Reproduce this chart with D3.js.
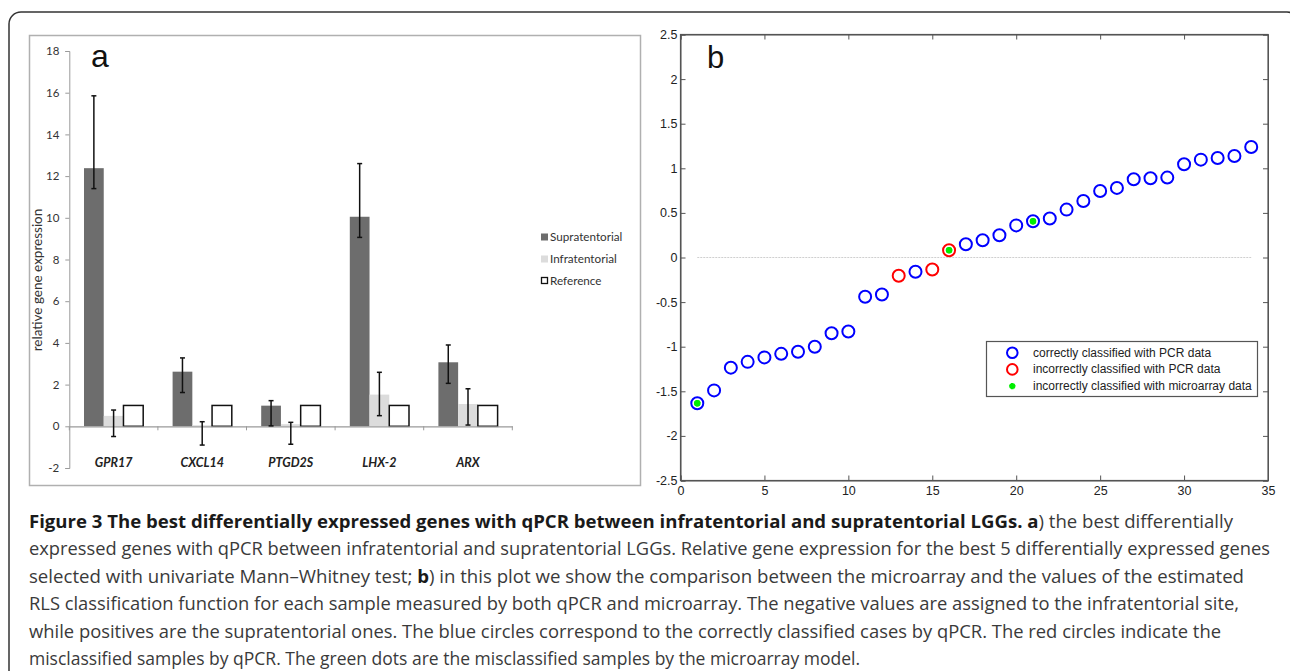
<!DOCTYPE html>
<html><head><meta charset="utf-8">
<script src="https://cdn.jsdelivr.net/npm/d3@7"></script>
<style>body{margin:0;background:#fff;} svg{display:block;}</style>
</head><body>
<script>
// ---------- Panel a data ----------
const genes = ["GPR17","CXCL14","PTGD2S","LHX-2","ARX"];
const seriesNames = ["Supratentorial","Infratentorial","Reference"];
const supra     = [12.38, 2.62, 0.99, 10.05, 3.07];
const supraLow  = [11.40, 1.62, 0.02, 9.06, 2.06];
const supraHigh = [15.85, 3.28, 1.23, 12.60, 3.90];
const infra     = [0.50, 0.05, 0.10, 1.52, 1.07];
const infraLow  = [-0.49, -0.90, -0.86, 0.51, 0.06];
const infraHigh = [0.78, 0.22, 0.19, 2.59, 1.80];
const reference = [1, 1, 1, 1, 1];
const yTicksA = [-2,0,2,4,6,8,10,12,14,16,18];

// ---------- Panel b data ----------
const sampleIdx = d3.range(1, 35);
const rlsScore = [-1.634,-1.49,-1.235,-1.17,-1.12,-1.08,-1.056,-1.0,-0.85,-0.83,
  -0.44,-0.414,-0.205,-0.16,-0.134,0.082,0.149,0.194,0.25,0.36,
  0.407,0.437,0.537,0.634,0.746,0.78,0.877,0.888,0.896,1.045,
  1.097,1.116,1.138,1.239];
const pcrMisclassified = [13, 15, 16];
const microarrayMisclassified = [1, 16, 21];
const xTicksB = [0,5,10,15,20,25,30,35];
const yTicksB = [-2.5,-2,-1.5,-1,-0.5,0,0.5,1,1.5,2,2.5];
const legendB = ["correctly classified with PCR data","incorrectly classified with PCR data","incorrectly classified with microarray data"];

// ---------- Caption ----------
const captionLines = [
  [["Figure 3 The best differentially expressed genes with qPCR between infratentorial and supratentorial LGGs. ",1],["a",1],[") the best differentially",0]],
  [["expressed genes with qPCR between infratentorial and supratentorial LGGs. Relative gene expression for the best 5 differentially expressed genes",0]],
  [["selected with univariate Mann\u2013Whitney test; ",0],["b",1],[") in this plot we show the comparison between the microarray and the values of the estimated",0]],
  [["RLS classification function for each sample measured by both qPCR and microarray. The negative values are assigned to the infratentorial site,",0]],
  [["while positives are the supratentorial ones. The blue circles correspond to the correctly classified cases by qPCR. The red circles indicate the",0]],
  [["misclassified samples by qPCR. The green dots are the misclassified samples by the microarray model.",0]]
];
const captionEnds = [1233, 1270, 1244, 1239, 1221, null];

const W = 1290, H = 671;
const svg = d3.select("body").append("svg").attr("width", W).attr("height", H);
svg.append("rect").attr("width", W).attr("height", H).attr("fill", "#fff");

// outer frame
svg.append("rect").attr("x", 9).attr("y", 12).attr("width", 1290).attr("height", 720)
  .attr("rx", 12).attr("fill", "none").attr("stroke", "#333").attr("stroke-width", 1.5);

// ================= Panel a =================
const fa = "Lato, 'Open Sans', sans-serif";
const gA = svg.append("g");
gA.append("rect").attr("x", 29.5).attr("y", 35.5).attr("width", 611).attr("height", 450)
  .attr("fill", "#fff").attr("stroke", "#b0b0b0").attr("stroke-width", 1.5);

const ya = d3.scaleLinear().domain([-2, 18]).range([468, 51]);
const xa = d3.scaleBand().domain(genes).range([69.3, 512.3]);
const xs = d3.scaleBand().domain(seriesNames).range([0, xa.bandwidth()]).paddingInner(0).paddingOuter(0.745);
const fillA = {"Supratentorial":"#6d6d6d","Infratentorial":"#dcdcdc","Reference":"#ffffff"};

const yAxA = gA.append("g").attr("transform", "translate(69.3,0)")
  .call(d3.axisLeft(ya).tickValues(yTicksA).tickFormat(d => String(d)).tickSize(4).tickPadding(6));
yAxA.select(".domain").attr("stroke", "#9a9a9a");
yAxA.selectAll(".tick line").attr("stroke", "#9a9a9a");
yAxA.selectAll("text").attr("font-family", fa).attr("font-size", 11.5).attr("fill", "#333");

const seriesVals = {"Supratentorial": supra, "Infratentorial": infra, "Reference": reference};
const barData = [];
genes.forEach((g, i) => seriesNames.forEach(s => barData.push({g, s, v: seriesVals[s][i], i})));
gA.append("g").selectAll("rect").data(barData).join("rect")
  .attr("x", d => xa(d.g) + xs(d.s))
  .attr("width", xs.bandwidth())
  .attr("y", d => ya(Math.max(0, d.v)))
  .attr("height", d => Math.abs(ya(d.v) - ya(0)))
  .attr("fill", d => fillA[d.s])
  .attr("stroke", d => d.s === "Reference" ? "#111" : "none")
  .attr("stroke-width", 1.5);

// x axis line at 0
const xAxA = gA.append("g").attr("transform", `translate(0,${ya(0)})`)
  .call(d3.axisBottom(xa).tickSize(0).tickFormat(""));
xAxA.select(".domain").attr("stroke", "#9a9a9a").attr("stroke-width", 1.2);
const bounds = genes.map(g => xa(g)).concat([xa.range()[1]]);
gA.append("g").selectAll("line").data(bounds).join("line")
  .attr("x1", d => d).attr("x2", d => d).attr("y1", ya(0)).attr("y2", ya(0) + 4)
  .attr("stroke", "#9a9a9a");

// error bars
const errData = [];
genes.forEach((g, i) => {
  errData.push({g, s: "Supratentorial", lo: supraLow[i], hi: supraHigh[i]});
  errData.push({g, s: "Infratentorial", lo: infraLow[i], hi: infraHigh[i]});
});
const eb = gA.append("g").attr("stroke", "#111").attr("stroke-width", 1.5);
errData.forEach(d => {
  const cx = xa(d.g) + xs(d.s) + xs.bandwidth() / 2;
  eb.append("line").attr("x1", cx).attr("x2", cx).attr("y1", ya(d.lo)).attr("y2", ya(d.hi));
  eb.append("line").attr("x1", cx - 2.5).attr("x2", cx + 2.5).attr("y1", ya(d.lo)).attr("y2", ya(d.lo));
  eb.append("line").attr("x1", cx - 2.5).attr("x2", cx + 2.5).attr("y1", ya(d.hi)).attr("y2", ya(d.hi));
});

// category labels
gA.append("g").selectAll("text").data(genes).join("text")
  .attr("x", d => xa(d) + xa.bandwidth() / 2).attr("y", 467)
  .attr("text-anchor", "middle").attr("font-family", fa).attr("font-size", 12.5)
  .attr("font-weight", "bold").attr("font-style", "italic").attr("fill", "#222")
  .text(d => d);

// y title
gA.append("text").attr("transform", "translate(42,280) rotate(-90)")
  .attr("text-anchor", "middle").attr("font-family", fa).attr("font-size", 13.5).attr("fill", "#333")
  .text("relative gene expression");

// panel letter
gA.append("text").attr("x", 91).attr("y", 67).attr("font-family", "'Liberation Sans', Arial, sans-serif")
  .attr("font-size", 32).attr("fill", "#111").text("a");

// legend a
const legA = gA.append("g");
seriesNames.forEach((s, k) => {
  const cy = 237 + k * 22;
  legA.append("rect").attr("x", s === "Reference" ? 541.5 : 541).attr("y", cy - 3.5)
    .attr("width", s === "Reference" ? 6 : 7).attr("height", s === "Reference" ? 6 : 7)
    .attr("fill", fillA[s]).attr("stroke", s === "Reference" ? "#111" : "none").attr("stroke-width", 1.3);
  legA.append("text").attr("x", 550).attr("y", cy + 4).attr("font-family", fa)
    .attr("font-size", 11.7).attr("fill", "#333").text(s);
});

// ================= Panel b =================
const fb = "'Liberation Sans', Arial, sans-serif";
const gB = svg.append("g");
const xb = d3.scaleLinear().domain([0, 35]).range([680.5, 1268]);
const yb = d3.scaleLinear().domain([-2.5, 2.5]).range([480.5, 34.5]);

gB.append("rect").attr("x", xb(0)).attr("y", yb(2.5)).attr("width", xb(35) - xb(0))
  .attr("height", yb(-2.5) - yb(2.5)).attr("fill", "#fff").attr("stroke", "#555").attr("stroke-width", 1.2);

function styleAx(sel) {
  sel.select(".domain").attr("stroke", "#555");
  sel.selectAll(".tick line").attr("stroke", "#555");
  sel.selectAll("text").attr("font-family", fb).attr("font-size", 12.5).attr("fill", "#222");
}
styleAx(gB.append("g").attr("transform", `translate(${xb(0)},0)`)
  .call(d3.axisLeft(yb).tickValues(yTicksB).tickFormat(d => String(d)).tickSize(-5).tickPadding(3)));
styleAx(gB.append("g").attr("transform", `translate(${xb(35)},0)`)
  .call(d3.axisRight(yb).tickValues(yTicksB).tickFormat("").tickSize(-5)));
styleAx(gB.append("g").attr("transform", `translate(0,${yb(-2.5)})`)
  .call(d3.axisBottom(xb).tickValues(xTicksB).tickFormat(d => String(d)).tickSize(-5).tickPadding(6)));
styleAx(gB.append("g").attr("transform", `translate(0,${yb(2.5)})`)
  .call(d3.axisTop(xb).tickValues(xTicksB).tickFormat("").tickSize(-5)));

// zero line
gB.append("line").attr("x1", xb(1)).attr("x2", xb(34)).attr("y1", yb(0)).attr("y2", yb(0))
  .attr("stroke", "#cfcfcf").attr("stroke-width", 1).attr("stroke-dasharray", "2,1");

const pts = sampleIdx.map((x, i) => ({x, y: rlsScore[i]}));
gB.append("g").selectAll("circle").data(pts).join("circle")
  .attr("cx", d => xb(d.x)).attr("cy", d => yb(d.y)).attr("r", 6)
  .attr("fill", "none").attr("stroke-width", 2)
  .attr("stroke", d => pcrMisclassified.includes(d.x) ? "#ff0000" : "#0000ff");

const star = d3.symbol().type(d3.symbolAsterisk).size(28);
gB.append("g").selectAll("path").data(pts.filter(d => microarrayMisclassified.includes(d.x))).join("path")
  .attr("transform", d => `translate(${xb(d.x)},${yb(d.y)})`)
  .attr("d", star).attr("fill", "none").attr("stroke", "#00ee00").attr("stroke-width", 2.6);
gB.append("g").selectAll("circle").data(pts.filter(d => microarrayMisclassified.includes(d.x))).join("circle")
  .attr("cx", d => xb(d.x)).attr("cy", d => yb(d.y)).attr("r", 3.2).attr("fill", "#00ee00");

gB.append("text").attr("x", 707).attr("y", 68).attr("font-family", fb)
  .attr("font-size", 31).attr("fill", "#111").text("b");

// legend b
const legB = gB.append("g");
legB.append("rect").attr("x", 986.5).attr("y", 341.5).attr("width", 271).attr("height", 55)
  .attr("fill", "#fff").attr("stroke", "#555").attr("stroke-width", 1.2);
legendB.forEach((t, k) => {
  const cy = 352.7 + k * 16.7;
  if (k < 2) {
    legB.append("circle").attr("cx", 1012.3).attr("cy", cy).attr("r", 5.3).attr("fill", "none")
      .attr("stroke", k === 0 ? "#0000ff" : "#ff0000").attr("stroke-width", 2);
  } else {
    legB.append("path").attr("transform", `translate(1012.3,${cy})`).attr("d", star)
      .attr("fill", "none").attr("stroke", "#00ee00").attr("stroke-width", 2.6);
  }
  legB.append("text").attr("x", 1033).attr("y", cy + 4).attr("font-family", fb)
    .attr("font-size", 12).attr("fill", "#222").text(t);
});

// ================= Caption =================
const cap = svg.append("g");
captionLines.forEach((line, k) => {
  const t = cap.append("text").attr("x", 29).attr("y", 527.5 + k * 27.5)
    .attr("font-family", "'Open Sans', sans-serif").attr("font-size", 17.5).attr("fill", "#3a3a3a");
  line.forEach(([s, b]) => {
    t.append("tspan").attr("font-weight", b ? "bold" : "normal").attr("fill", b ? "#1a1a1a" : "#3a3a3a").text(s);
  });
  const end = captionEnds[k];
  if (end) t.attr("textLength", end - 29).attr("lengthAdjust", "spacingAndGlyphs");
});
</script>
</body></html>
